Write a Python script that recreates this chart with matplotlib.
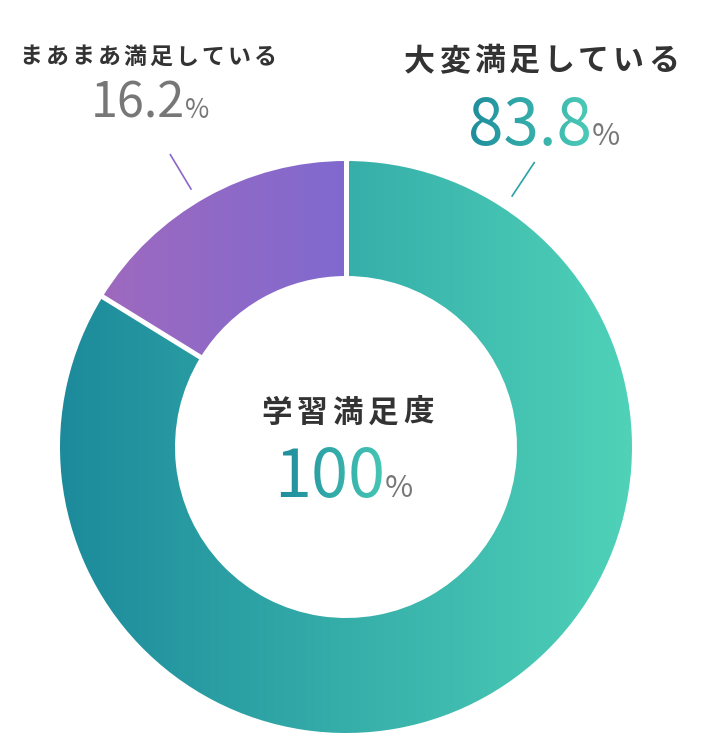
import numpy as np
import matplotlib
matplotlib.use("Agg")
import matplotlib.pyplot as plt
import matplotlib.colors as mcolors

plt.rcParams['font.family'] = ['Noto Sans CJK JP', 'DejaVu Sans']

# ---- data ----
labels = ["大変満足している", "まあまあ満足している"]
values = [83.8, 16.2]
value_labels = ["83.8", "16.2"]
center_title = "学習満足度"
center_value = "100"

# ---- style ----
W, H = 701, 733
teal_grad = ("#1c8a9b", "#4fd2b8")
purple_grad = ("#9e69bf", "#8069cf")
dark = "#333333"
grey = "#777777"

fig = plt.figure(figsize=(W / 100, H / 100), dpi=100)
ax = fig.add_axes([0, 0, 1, 1])

cx, cy = 346, H - 447
R, ring = 286, 115


def hgrad(c0, c1):
    a = np.array(mcolors.to_rgb(c0))
    b = np.array(mcolors.to_rgb(c1))

    def f(im, dpi):
        h, w = im.shape[:2]
        t = np.linspace(0, 1, max(w, 1))[None, :, None]
        rgb = a * (1 - t) + b * t
        out = im.copy()
        out[..., :3] = np.broadcast_to(rgb, (h, w, 3))
        return out, 0, 0
    return f


wedges, _ = ax.pie(values, center=(cx, cy), radius=R, startangle=90,
                   counterclock=False, colors=[teal_grad[0], purple_grad[0]],
                   wedgeprops=dict(width=ring, linewidth=0))
wedges[0].set_agg_filter(hgrad(*teal_grad))
wedges[1].set_agg_filter(hgrad(*purple_grad))

# white separators at wedge boundaries
cum = np.cumsum([0] + values) / sum(values)
for frac in cum[:-1]:
    ang = np.deg2rad(90 - 360 * frac)
    r0, r1 = R - ring - 3, R + 3
    ax.plot([cx + r0 * np.cos(ang), cx + r1 * np.cos(ang)],
            [cy + r0 * np.sin(ang), cy + r1 * np.sin(ang)],
            color="white", lw=3.6, solid_capstyle="butt", zorder=5)

# leader lines
for ang_deg, col in [(56.5, "#2aa2a4"), (121.0, "#8a68c9")]:
    a = np.deg2rad(ang_deg)
    ax.plot([cx + 301 * np.cos(a), cx + 341 * np.cos(a)],
            [cy + 301 * np.sin(a), cy + 341 * np.sin(a)],
            color=col, lw=1.2, zorder=5)

ax.set_xlim(0, W)
ax.set_ylim(0, H)
ax.set_aspect('auto')
ax.axis('off')


def spaced(s, x_left, x_right, y_img, fs):
    em = fs * 100 / 72
    n = len(s)
    c0 = x_left + 0.47 * em
    c1 = x_right - 0.47 * em
    xs = np.linspace(c0, c1, n) if n > 1 else [0.5 * (c0 + c1)]
    for ch, x in zip(s, xs):
        ax.text(x, H - y_img, ch, fontsize=fs, fontweight='bold', color=dark,
                ha='center', va='center')


def number(s, x_right, base_img, fs, pct_fs, grad=None, color=grey):
    t = ax.text(x_right + 2, H - base_img, s, fontsize=fs, color=color,
                ha='right', va='baseline')
    if grad:
        t.set_agg_filter(hgrad(*grad))
    ax.text(x_right + 2, H - base_img, "%", fontsize=pct_fs, color=grey,
            ha='left', va='baseline')


spaced(labels[1], 20, 276, 57, 16.5)
spaced(labels[0], 405, 678, 61, 22.3)
spaced(center_title, 262, 433, 413, 22)

number(value_labels[1], 183, 118, 35, 19)
number(value_labels[0], 590, 145, 46, 22, grad=("#1f8e9d", "#4bcab6"))
number(center_value, 383, 497, 48, 22, grad=("#1f8e9d", "#45c5b4"))

fig.savefig("out.png", dpi=100)
